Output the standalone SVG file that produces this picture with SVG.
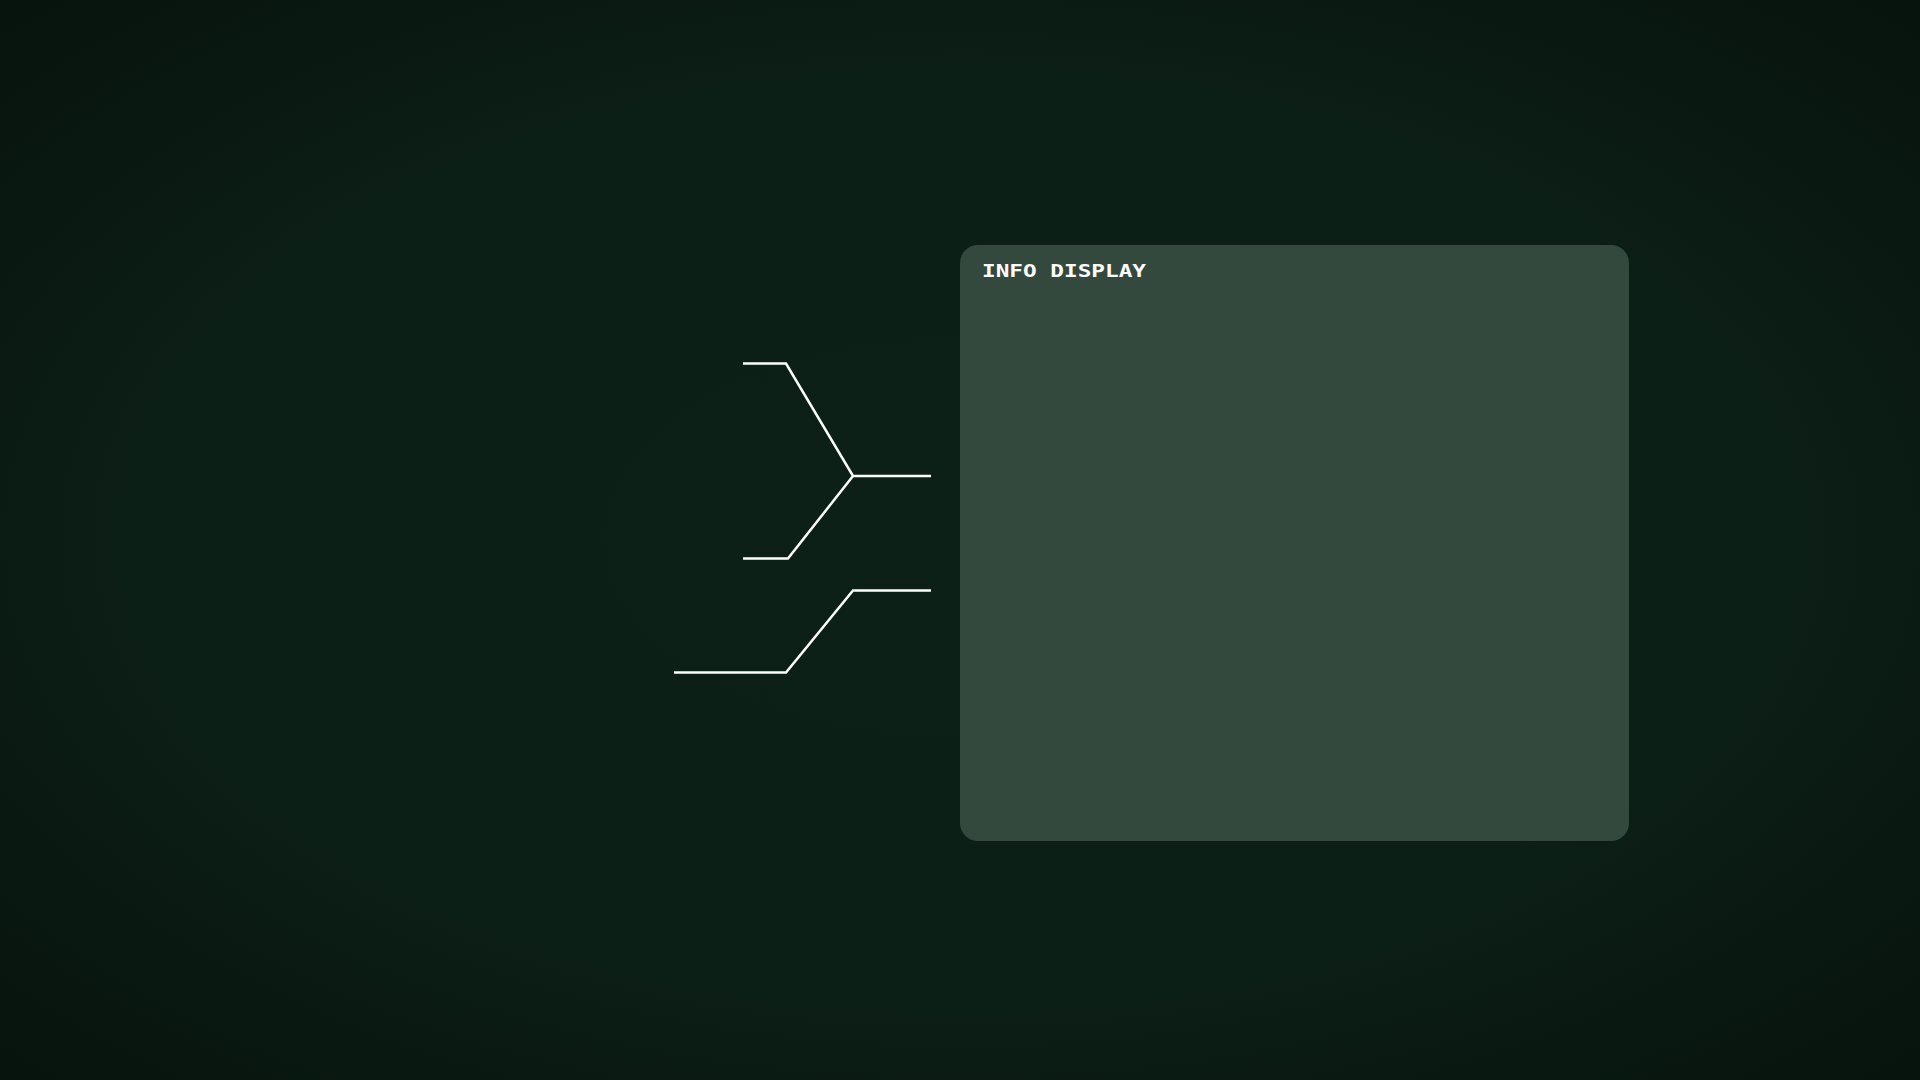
<svg xmlns="http://www.w3.org/2000/svg" width="1920" height="1080" viewBox="0 0 1920 1080">
  <defs>
    <radialGradient id="bg" cx="50%" cy="50%" r="75%">
      <stop offset="0" stop-color="#0d2017"/>
      <stop offset="0.55" stop-color="#0c1f16"/>
      <stop offset="1" stop-color="#06110b"/>
    </radialGradient>
    <style>
      .conn { fill: none; stroke: #ffffff; stroke-width: 2.5; stroke-linejoin: miter; }
      .panel { fill: #34493d; }
      .title { font-family: "DejaVu Sans Mono", "Liberation Mono", monospace; font-weight: bold; font-size: 17px; fill: #ffffff; }
    </style>
  </defs>
  <rect width="1920" height="1080" fill="url(#bg)"/>
  <g id="connectors">
    <polyline class="conn" points="743,363.5 786,363.5 853,476 931,476"/>
    <polyline class="conn" points="743,558.5 788,558.5 853,476"/>
    <polyline class="conn" points="674,672.5 786,672.5 853,590.5 931,590.5"/>
  </g>
  <g id="info-display">
    <rect class="panel" x="960" y="245" width="669" height="596" rx="18" ry="18"/>
    <text class="title" x="982" y="277" textLength="164" lengthAdjust="spacingAndGlyphs">INFO DISPLAY</text>
  </g>
</svg>
